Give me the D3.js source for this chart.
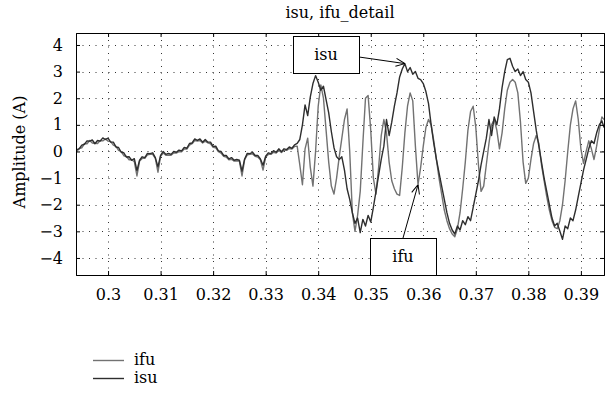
<!DOCTYPE html>
<html>
<head>
<meta charset="utf-8">
<script src="https://cdn.jsdelivr.net/npm/d3@7"></script>
<style>
body { margin: 0; background: #fff; }
svg text { font-family: "DejaVu Serif", serif; fill: #000; }
</style>
</head>
<body>
<div id="chart"></div>
<script>
// sample times (s)
const times = [
    0.2939, 0.2940, 0.2945, 0.2950, 0.2955, 0.2960, 0.2965, 0.2970, 0.2975, 0.2980,
    0.2985, 0.2990, 0.2995, 0.3000, 0.3005, 0.3010, 0.3015, 0.3020, 0.3025, 0.3030,
    0.3035, 0.3040, 0.3045, 0.3050, 0.3055, 0.3060, 0.3065, 0.3070, 0.3075, 0.3080,
    0.3085, 0.3090, 0.3095, 0.3100, 0.3105, 0.3110, 0.3115, 0.3120, 0.3125, 0.3130,
    0.3135, 0.3140, 0.3145, 0.3150, 0.3155, 0.3160, 0.3165, 0.3170, 0.3175, 0.3180,
    0.3185, 0.3190, 0.3195, 0.3200, 0.3205, 0.3210, 0.3215, 0.3220, 0.3225, 0.3230,
    0.3235, 0.3240, 0.3245, 0.3250, 0.3255, 0.3260, 0.3265, 0.3270, 0.3275, 0.3280,
    0.3285, 0.3290, 0.3295, 0.3300, 0.3305, 0.3310, 0.3315, 0.3320, 0.3325, 0.3330,
    0.3335, 0.3340, 0.3345, 0.3350, 0.3355, 0.3360, 0.3365, 0.3370, 0.3375, 0.3380,
    0.3385, 0.3390, 0.3395, 0.3400, 0.3405, 0.3410, 0.3415, 0.3420, 0.3425, 0.3430,
    0.3435, 0.3440, 0.3445, 0.3450, 0.3455, 0.3460, 0.3465, 0.3470, 0.3475, 0.3480,
    0.3485, 0.3490, 0.3495, 0.3500, 0.3505, 0.3510, 0.3515, 0.3520, 0.3525, 0.3530,
    0.3535, 0.3540, 0.3545, 0.3550, 0.3555, 0.3560, 0.3565, 0.3570, 0.3575, 0.3580,
    0.3585, 0.3590, 0.3595, 0.3600, 0.3605, 0.3610, 0.3615, 0.3620, 0.3625, 0.3630,
    0.3635, 0.3640, 0.3645, 0.3650, 0.3655, 0.3660, 0.3665, 0.3670, 0.3675, 0.3680,
    0.3685, 0.3690, 0.3695, 0.3700, 0.3705, 0.3710, 0.3715, 0.3720, 0.3725, 0.3730,
    0.3735, 0.3740, 0.3745, 0.3750, 0.3755, 0.3760, 0.3765, 0.3770, 0.3775, 0.3780,
    0.3785, 0.3790, 0.3795, 0.3800, 0.3805, 0.3810, 0.3815, 0.3820, 0.3825, 0.3830,
    0.3835, 0.3840, 0.3845, 0.3850, 0.3855, 0.3860, 0.3865, 0.3870, 0.3875, 0.3880,
    0.3885, 0.3890, 0.3895, 0.3900, 0.3905, 0.3910, 0.3915, 0.3920, 0.3925, 0.3930,
    0.3935, 0.3940, 0.3944
];

// ifu current (A)
const ifuValues = [
    0.00, -0.01, 0.11, 0.14, 0.29, 0.29, 0.41, 0.32, 0.31, 0.30,
    0.41, 0.40, 0.47, 0.39, 0.37, 0.24, 0.19, 0.04, -0.01, -0.16,
    -0.19, -0.31, -0.31, -0.38, -0.92, -0.36, -0.26, -0.26, -0.13, -0.11,
    -0.11, -0.26, -0.78, -0.18, -0.06, -0.14, -0.13, -0.14, -0.06, -0.06,
    -0.01, -0.01, 0.09, 0.09, 0.24, 0.29, 0.41, 0.39, 0.41, 0.32,
    0.39, 0.32, 0.29, 0.16, 0.14, -0.01, -0.06, -0.18, -0.21, -0.31,
    -0.29, -0.36, -0.36, -0.36, -0.92, -0.31, -0.13, -0.11, -0.09, -0.18,
    -0.21, -0.31, -0.70, -0.21, -0.11, -0.11, -0.03, -0.06, 0.04, -0.04,
    0.04, 0.04, 0.11, 0.09, 0.19, 0.20, -0.50, -1.25, 0.10, 0.50,
    -0.60, -1.30, 0.00, 1.70, 2.50, 2.00, 0.80, -0.40, -1.30, -1.60,
    -1.00, -0.20, 0.50, 1.20, 1.60, 0.00, -2.30, -3.00, -2.40, -1.50,
    0.30, 2.00, 2.10, 0.80, -1.00, -1.60, -0.60, 0.60, 1.20, 0.70,
    -0.40, -1.10, -1.40, -1.60, -1.65, -0.60, 0.70, 1.70, 2.20, 1.90,
    0.20, -1.25, -0.60, 0.20, 0.90, 1.20, 1.00, 0.40, -0.30, -1.00,
    -1.60, -2.20, -2.60, -2.90, -3.10, -3.20, -2.90, -2.30, -1.40, -0.40,
    0.80, 1.50, 1.70, 0.90, -0.50, -1.50, -1.30, -0.50, 0.30, 1.00,
    1.20, 0.80, 0.10, 0.70, 1.60, 2.30, 2.60, 2.70, 2.60, 2.20,
    1.10, -0.40, -1.20, -1.00, -0.30, 0.30, 0.60, 0.30, -0.50, -1.10,
    -1.70, -2.20, -2.60, -2.85, -2.90, -2.60, -2.00, -1.10, 0.00, 1.00,
    1.60, 1.90, 1.20, 0.10, -0.45, 0.00, 0.40, 0.10, -0.30, 0.20,
    0.80, 1.30, 1.20
];

// isu current (A)
const isuValues = [
    0.04, 0.07, 0.10, 0.24, 0.27, 0.40, 0.39, 0.43, 0.29, 0.41,
    0.39, 0.51, 0.45, 0.50, 0.35, 0.35, 0.17, 0.15, -0.03, -0.05,
    -0.21, -0.20, -0.33, -0.27, -0.72, -0.33, -0.20, -0.23, -0.07, -0.08,
    -0.05, -0.23, -0.58, -0.15, 0.00, -0.11, -0.07, -0.11, 0.00, -0.03,
    0.05, 0.02, 0.15, 0.12, 0.30, 0.32, 0.47, 0.42, 0.47, 0.35,
    0.45, 0.35, 0.35, 0.19, 0.20, 0.02, 0.00, -0.15, -0.15, -0.28,
    -0.23, -0.33, -0.30, -0.33, -0.74, -0.28, -0.07, -0.08, -0.03, -0.15,
    -0.15, -0.28, -0.52, -0.18, -0.05, -0.08, 0.03, -0.03, 0.10, -0.01,
    0.10, 0.07, 0.17, 0.12, 0.25, 0.30, 0.45, 1.00, 1.75, 1.35,
    2.05, 2.55, 2.85, 2.60, 2.30, 2.45, 1.95, 1.45, 0.75, 0.15,
    -0.20, -0.30, -0.20, -0.70, -1.40, -1.80, -2.30, -2.70, -2.50, -3.05,
    -2.55, -2.80, -2.40, -2.65, -2.10, -1.50, -0.90, -0.30, 0.20, 1.20,
    0.60, 1.10, 1.70, 2.20, 2.80, 3.10, 3.30, 3.00, 3.15, 2.90,
    3.00, 2.75, 2.70, 2.55, 2.25, 1.80, 1.00, 0.30, -0.30, -0.80,
    -1.30, -1.80, -2.30, -2.70, -2.95, -3.10, -2.80, -2.95, -2.60, -2.75,
    -2.45, -2.60, -2.10, -1.60, -1.10, -0.50, 0.00, 0.50, 1.20, 0.60,
    1.30, 1.00, 1.60, 2.40, 3.00, 3.45, 3.50, 3.20, 3.00, 3.10,
    2.85, 3.00, 2.70, 2.60, 2.20, 1.50, 0.80, 0.20, -0.40, -1.00,
    -1.50, -2.00, -2.50, -2.80, -2.70, -3.00, -3.30, -2.80, -2.90, -2.50,
    -2.60, -2.20, -1.70, -1.20, -0.70, -0.30, 0.10, 0.40, 0.30, 0.70,
    1.00, 1.15, 0.90
];

const xTicks = [0.30, 0.31, 0.32, 0.33, 0.34, 0.35, 0.36, 0.37, 0.38, 0.39];
const yTicks = [-4, -3, -2, -1, 0, 1, 2, 3, 4];
const seriesNames = ["ifu", "isu"];
const seriesColors = ["#727272", "#2e2e2e"];

// annotated points: [label, time, value]
const notes = [["isu", 0.3565, 3.30], ["ifu", 0.3590, -1.25]];

function drawChart() {
    const width = 610, height = 398;
    const plot = { left: 76, right: 604, top: 33, bottom: 275 };
    const fontSize = 16;

    const svg = d3.select("#chart").append("svg")
        .attr("width", width)
        .attr("height", height);

    const x = d3.scaleLinear().domain([0.2939, 0.3944]).range([plot.left, plot.right]);
    const y = d3.scaleLinear().domain([-4.64, 4.45]).range([plot.bottom, plot.top]);

    // dotted grid
    const grid = svg.append("g").attr("stroke", "#333").attr("stroke-width", 1)
        .attr("stroke-dasharray", "1,5.5");
    grid.selectAll("line.gx").data(xTicks).enter().append("line")
        .attr("x1", d => Math.round(x(d)) + 0.5).attr("x2", d => Math.round(x(d)) + 0.5)
        .attr("y1", plot.bottom).attr("y2", plot.top);
    grid.selectAll("line.gy").data(yTicks).enter().append("line")
        .attr("y1", d => Math.round(y(d)) + 0.5).attr("y2", d => Math.round(y(d)) + 0.5)
        .attr("x1", plot.left).attr("x2", plot.right);

    // series lines
    svg.append("clipPath").attr("id", "clip").append("rect")
        .attr("x", plot.left).attr("y", plot.top)
        .attr("width", plot.right - plot.left).attr("height", plot.bottom - plot.top);

    const line = d3.line().x(d => x(d[0])).y(d => y(d[1]));
    const series = [ifuValues, isuValues];
    series.forEach((vals, i) => {
        svg.append("path")
            .datum(times.map((t, j) => [t, vals[j]]))
            .attr("clip-path", "url(#clip)")
            .attr("fill", "none")
            .attr("stroke", seriesColors[i])
            .attr("stroke-width", 1.4)
            .attr("stroke-linejoin", "round")
            .attr("d", line);
    });

    // axes with inward ticks
    const fmt = d3.format(".2~f");
    svg.append("g").attr("transform", `translate(0,${plot.bottom})`)
        .call(d3.axisBottom(x).tickValues(xTicks).tickFormat(fmt).tickSize(-4).tickPadding(14));
    svg.append("g").attr("transform", `translate(0,${plot.top})`)
        .call(d3.axisTop(x).tickValues(xTicks).tickFormat("").tickSize(-4));
    svg.append("g").attr("transform", `translate(${plot.left},0)`)
        .call(d3.axisLeft(y).tickValues(yTicks).tickFormat(d => d < 0 ? "\u2212" + Math.abs(d) : d).tickSize(-4).tickPadding(13));
    svg.append("g").attr("transform", `translate(${plot.right},0)`)
        .call(d3.axisRight(y).tickValues(yTicks).tickFormat("").tickSize(-4));

    svg.selectAll(".domain").attr("stroke", "#000");
    svg.selectAll(".tick line").attr("stroke", "#000");
    svg.selectAll(".tick text").attr("font-family", "DejaVu Serif, serif").attr("font-size", fontSize).attr("fill", "#000");

    // title and y label
    svg.append("text")
        .attr("x", (plot.left + plot.right) / 2).attr("y", 18)
        .attr("text-anchor", "middle").attr("font-size", fontSize)
        .text("isu, ifu_detail");
    svg.append("text")
        .attr("transform", `translate(25,${(plot.top + plot.bottom) / 2 - 2}) rotate(-90)`)
        .attr("text-anchor", "middle").attr("font-size", fontSize)
        .text("Amplitude (A)");

    // annotation arrows
    svg.append("defs").append("marker")
        .attr("id", "head").attr("viewBox", "0 0 10 10")
        .attr("refX", 10).attr("refY", 5)
        .attr("markerWidth", 10).attr("markerHeight", 10)
        .attr("markerUnits", "userSpaceOnUse")
        .attr("orient", "auto")
        .append("path").attr("d", "M1,1 L10,5 L1,9")
        .attr("fill", "none").attr("stroke", "#000").attr("stroke-width", 1);

    const boxes = [
        { x: 293, y: 36, w: 66, h: 37, from: [359, 57] },
        { x: 370, y: 238, w: 66, h: 37, from: [403, 238] }
    ];
    notes.forEach((n, i) => {
        const b = boxes[i];
        svg.append("line")
            .attr("x1", b.from[0]).attr("y1", b.from[1])
            .attr("x2", x(n[1])).attr("y2", y(n[2]))
            .attr("stroke", "#000").attr("stroke-width", 1)
            .attr("marker-end", "url(#head)");
        svg.append("rect")
            .attr("x", b.x + 0.5).attr("y", b.y + 0.5).attr("width", b.w).attr("height", b.h)
            .attr("fill", "#fff").attr("stroke", "#000").attr("stroke-width", 1);
        svg.append("text")
            .attr("x", b.x + b.w / 2).attr("y", b.y + b.h / 2 + 5)
            .attr("text-anchor", "middle").attr("font-size", fontSize)
            .text(n[0]);
    });

    // legend
    const legend = svg.append("g");
    seriesNames.forEach((name, i) => {
        const ly = 360 + i * 18;
        legend.append("line")
            .attr("x1", 93).attr("x2", 124).attr("y1", ly + 0.5).attr("y2", ly + 0.5)
            .attr("stroke", seriesColors[i]).attr("stroke-width", 1.4);
        legend.append("text")
            .attr("x", 134).attr("y", ly + 5)
            .attr("font-size", fontSize)
            .text(name);
    });
}

window.onload = drawChart;
</script>
</body>
</html>
